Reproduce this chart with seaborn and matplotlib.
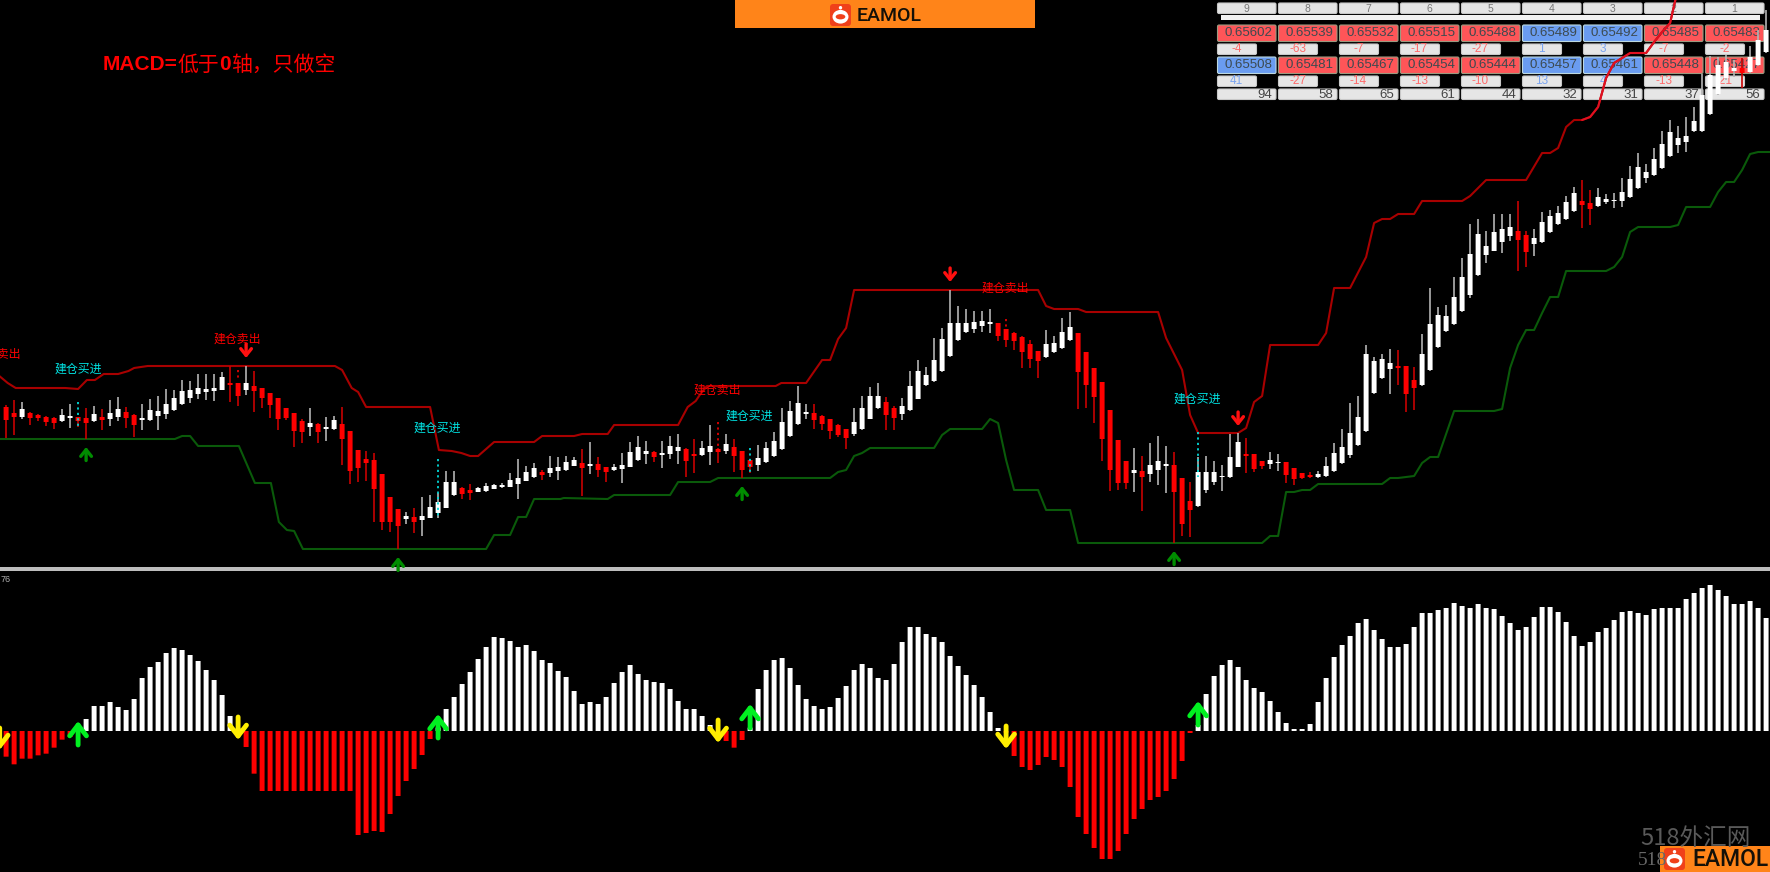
import matplotlib
matplotlib.use('Agg')
import matplotlib.pyplot as plt
from matplotlib.patches import FancyBboxPatch, Ellipse, Rectangle
import numpy as np
import pandas as pd
import seaborn as sns

# candles, read as pixel rows of the price panel (small row = high price)
wick_hi = [405, 400, 402, 412, 414, 416, 417, 409, 404, 417, 408, 406, 409, 400, 397, 407, 414, 404, 399, 396,
           389, 390, 380, 381, 374, 374, 374, 372, 366, 383, 366, 371, 388, 393, 398, 408, 413, 419, 408, 423,
           417, 416, 407, 431, 450, 451, 453, 474, 497, 509, 512, 508, 497, 495, 493, 471, 471, 487, 484, 487,
           483, 484, 483, 473, 459, 466, 463, 470, 456, 457, 456, 457, 449, 442, 457, 467, 464, 453, 442, 436,
           441, 451, 441, 436, 434, 448, 439, 441, 425, 448, 434, 439, 451, 459, 445, 442, 432, 408, 401, 386,
           404, 404, 415, 419, 424, 429, 408, 396, 387, 383, 397, 406, 398, 371, 360, 367, 338, 328, 290, 306,
           309, 311, 311, 309, 323, 329, 332, 336, 340, 351, 330, 336, 318, 312, 333, 352, 368, 382, 410, 440,
           461, 448, 456, 443, 436, 446, 452, 478, 482, 457, 456, 461, 465, 434, 433, 438, 454, 461, 452, 454,
           462, 468, 473, 472, 471, 457, 443, 429, 403, 396, 345, 357, 354, 349, 350, 366, 367, 334, 288, 307,
           305, 277, 258, 224, 219, 231, 214, 214, 214, 201, 231, 229, 212, 210, 206, 196, 187, 180, 190, 188,
           194, 193, 178, 166, 153, 164, 148, 131, 120, 126, 117, 107, 74, 56, 57, 55, 60, 58, 46, 30,
           10]
body_top = [407, 413, 409, 413, 415, 417, 418, 415, 416, 417, 418, 414, 417, 413, 409, 412, 415, 418, 410, 411,
            404, 398, 391, 390, 388, 389, 388, 377, 383, 383, 383, 386, 388, 393, 398, 408, 413, 421, 423, 424,
            427, 420, 424, 431, 450, 459, 460, 474, 497, 509, 516, 517, 516, 507, 502, 482, 482, 488, 490, 488,
            486, 485, 485, 480, 478, 472, 468, 472, 468, 467, 462, 460, 463, 464, 464, 467, 467, 465, 452, 447,
            451, 452, 453, 446, 447, 449, 454, 448, 446, 449, 444, 447, 451, 460, 458, 448, 441, 422, 411, 403,
            412, 413, 416, 419, 425, 429, 422, 408, 396, 396, 402, 408, 406, 386, 371, 375, 360, 339, 323, 323,
            323, 322, 321, 322, 323, 329, 333, 337, 344, 351, 344, 343, 332, 327, 333, 352, 368, 382, 410, 440,
            461, 470, 471, 465, 461, 464, 465, 478, 501, 472, 472, 472, 476, 457, 442, 454, 454, 461, 460, 462,
            462, 468, 473, 475, 474, 466, 453, 447, 433, 417, 354, 361, 359, 363, 366, 366, 380, 354, 324, 315,
            316, 297, 277, 254, 234, 246, 232, 229, 227, 231, 235, 238, 222, 216, 213, 202, 193, 201, 203, 197,
            199, 200, 192, 179, 167, 172, 159, 144, 132, 138, 136, 121, 95, 75, 65, 62, 68, 68, 57, 40,
            30]
body_bot = [420, 417, 417, 418, 418, 422, 423, 421, 418, 421, 423, 421, 420, 419, 417, 418, 425, 420, 420, 416,
            414, 410, 404, 398, 394, 392, 391, 390, 385, 396, 390, 391, 398, 405, 419, 418, 431, 432, 427, 432,
            429, 429, 439, 471, 468, 463, 489, 522, 522, 526, 519, 522, 520, 518, 513, 508, 495, 494, 493, 492,
            491, 489, 487, 487, 484, 481, 477, 475, 473, 471, 470, 466, 468, 466, 470, 472, 470, 469, 467, 460,
            454, 457, 455, 454, 451, 461, 456, 455, 452, 452, 451, 456, 470, 467, 465, 462, 456, 449, 436, 424,
            414, 420, 424, 431, 435, 438, 434, 429, 419, 408, 415, 418, 414, 410, 399, 385, 381, 371, 356, 340,
            332, 329, 326, 324, 336, 340, 341, 352, 359, 361, 357, 352, 348, 340, 372, 385, 397, 439, 470, 483,
            483, 473, 477, 474, 470, 466, 492, 524, 510, 506, 490, 482, 477, 477, 467, 456, 469, 466, 464, 463,
            475, 479, 478, 477, 477, 476, 471, 463, 455, 445, 431, 393, 378, 369, 368, 394, 388, 385, 370, 347,
            331, 324, 311, 295, 275, 255, 251, 242, 236, 240, 252, 244, 242, 232, 224, 219, 211, 205, 209, 206,
            202, 201, 201, 197, 188, 178, 175, 168, 156, 145, 142, 131, 131, 114, 94, 78, 71, 73, 72, 65,
            52]
wick_lo = [438, 435, 419, 425, 421, 426, 429, 422, 428, 427, 439, 422, 430, 426, 421, 428, 437, 430, 421, 430,
           419, 411, 405, 403, 399, 400, 401, 390, 402, 406, 395, 412, 408, 418, 430, 420, 447, 443, 436, 443,
           441, 430, 465, 484, 482, 481, 522, 530, 532, 549, 524, 533, 536, 518, 518, 508, 496, 499, 500, 492,
           492, 489, 488, 487, 499, 481, 478, 480, 477, 480, 471, 466, 496, 474, 477, 482, 471, 483, 467, 461,
           464, 462, 468, 459, 464, 477, 473, 456, 465, 463, 454, 472, 478, 473, 471, 463, 457, 450, 437, 425,
           419, 429, 430, 439, 437, 449, 436, 430, 419, 409, 430, 430, 420, 411, 399, 386, 382, 372, 357, 341,
           333, 333, 332, 333, 341, 347, 350, 368, 368, 378, 358, 353, 349, 341, 409, 408, 423, 461, 491, 490,
           489, 492, 511, 482, 485, 493, 543, 536, 537, 507, 493, 485, 491, 478, 467, 473, 472, 469, 469, 471,
           483, 485, 479, 478, 478, 477, 472, 464, 458, 446, 432, 394, 379, 394, 385, 412, 410, 386, 371, 348,
           332, 325, 312, 298, 276, 263, 251, 253, 241, 271, 267, 256, 243, 233, 225, 220, 212, 228, 225, 207,
           204, 208, 207, 198, 189, 183, 176, 169, 157, 153, 152, 132, 132, 115, 95, 80, 77, 88, 73, 66,
           53]
# bars that closed down, all others closed up
down_bars = [0, 1, 3, 4, 5, 6, 9, 10, 12, 15, 16, 28, 29, 31, 32, 33, 34, 35, 36, 37, 39, 42, 43, 44, 45, 46, 47, 48,
             49, 51, 57, 58, 67, 72, 74, 75, 81, 85, 86, 89, 91, 92, 93, 101, 102, 103, 104, 105, 110, 111,
             124, 125, 126, 127, 128, 129, 134, 135, 136, 137, 138, 139, 140, 142, 146, 147, 148, 155, 156, 157,
             160, 161, 162, 163, 174, 175, 176, 189, 190, 197, 198, 217]

# stop lines, bar number and row of each corner
upper_bar = [-1, 0.2, 1.2, 7.4, 9, 10.1, 11.1, 12.2, 14, 15.3, 16, 17.7, 41.1, 42, 43.2, 44, 45, 53, 54.1, 55.7, 56.9,
             58, 59, 61, 66, 67, 71, 72, 75.2, 76, 84, 85.2, 86.2, 86.7, 87.6, 96.2, 96.9, 100, 102, 103, 104, 105,
             106, 129, 130, 131, 134, 135, 144, 145, 147, 148, 149, 154, 155, 156, 157, 158, 164, 165, 166, 168, 170,
             171, 172, 173, 174, 176, 177, 182, 183, 185, 190, 192, 193, 194, 195, 196, 197, 198, 199, 200, 201, 203,
             205, 206, 207, 208, 209]
upper_row = [375, 383, 388, 388, 389, 380, 380, 374, 374, 371, 368, 366, 366, 370, 388, 392, 407, 407, 450, 451, 453,
             456, 456, 442, 442, 436, 436, 434, 434, 425, 425, 407, 401, 395, 386, 386, 383, 383, 360, 360, 339, 328,
             290, 290, 306, 309, 309, 312, 312, 338, 370, 415, 433, 433, 428, 402, 396, 345, 345, 333, 288, 288, 257,
             223, 219, 219, 214, 214, 201, 201, 196, 180, 180, 153, 153, 148, 127, 120, 120, 117, 107, 78, 63, 53,
             53, 42, 32, 23, -12]
lower_bar = [-1, 21.1, 22, 23, 24, 29.1, 31.1, 33.1, 34.1, 35.1, 36, 37.1, 60, 61, 63, 64, 65, 66, 69.3, 69.7, 75.2, 76,
             83, 84, 88, 89, 103, 104, 105, 106, 107, 108, 116, 117, 118, 122, 123, 124, 125, 126, 129, 130, 133, 134,
             157, 158, 159, 160, 161, 162, 163, 164, 172, 173, 174, 176, 177, 178, 179, 181, 186, 187, 188, 189, 190,
             191, 192, 193, 194, 195, 200, 201, 202, 203, 204, 208, 209, 210, 213, 214, 215, 216, 217, 218, 219, 221]
lower_row = [439, 439, 436, 436, 446, 446, 483, 483, 522, 530, 531, 549, 549, 535, 535, 517, 517, 499, 499, 498, 499, 495,
             495, 482, 482, 478, 478, 472, 470, 456, 453, 448, 448, 435, 429, 429, 419, 423, 460, 490, 490, 510, 510, 543,
             543, 536, 536, 492, 492, 490, 490, 484, 484, 478, 478, 476, 463, 457, 457, 411, 411, 409, 368, 345, 330,
             330, 313, 297, 297, 271, 271, 267, 257, 232, 227, 227, 225, 207, 207, 192, 182, 182, 170, 154, 152, 152]

# MACD histogram, one value per bar
macd = [-77, -100, -83, -83, -73, -68, -50, -26, -18, 10, 36, 75, 75, 87, 72, 63, 96, 159, 192, 207,
        234, 249, 243, 228, 210, 183, 153, 108, 45, 8, -48, -128, -180, -180, -180, -180, -180, -180, -180, -180,
        -180, -180, -180, -180, -312, -306, -300, -303, -249, -195, -150, -114, -72, -24, 10, 66, 102, 141, 177, 216,
        252, 282, 279, 270, 252, 258, 240, 213, 204, 180, 162, 120, 81, 87, 81, 102, 144, 177, 198, 171,
        153, 147, 144, 126, 90, 66, 66, 45, 18, -8, -30, -50, -27, 10, 126, 183, 213, 219, 189, 138,
        96, 75, 66, 72, 99, 135, 183, 201, 189, 159, 153, 201, 267, 312, 312, 291, 282, 267, 225, 195,
        168, 138, 102, 57, 9, -5, -75, -108, -117, -102, -78, -87, -108, -168, -258, -309, -351, -384, -384, -360,
        -309, -264, -234, -207, -198, -180, -144, -90, -6, 18, 111, 165, 198, 213, 192, 153, 129, 117, 90, 57,
        24, 6, 6, 21, 87, 159, 222, 258, 285, 324, 336, 303, 276, 252, 252, 261, 312, 354, 354, 363,
        369, 384, 375, 369, 381, 369, 366, 345, 324, 303, 312, 342, 372, 372, 357, 327, 285, 255, 267, 297,
        309, 333, 357, 360, 354, 348, 366, 369, 369, 369, 396, 414, 429, 438, 423, 405, 381, 381, 390, 369,
        339]

# signals
buy_bars = [10, 49, 92, 146]
buy_tops = [447, 557, 486, 551]
sell_bars = [30, 118, 154]
sell_tips = [358, 282, 426]
cyan_dots = [(9, 402, 427), (54, 459, 517), (93, 448, 473), (149, 432, 477)]
red_dots = [(29, 370, 380), (89, 422, 447), (125, 319, 329)]
sell_text = [(-1.1, 354), (28.9, 339), (88.9, 390), (124.9, 288)]
buy_text = [(9, 369), (53.9, 428), (92.9, 416), (148.9, 399)]
# bar, arrow tail, arrow tip in histogram units
macd_up = [(9, -42, 30), (54, -21, 51), (93, 9, 81), (149, 18, 90)]
macd_down = [(-0.8, 9, -57), (29, 42, -27), (89, 33, -36), (125, 15, -54)]

# table top right
bar_no = [9, 8, 7, 6, 5, 4, 3, 2, 1]
close_a = ['0.65602', '0.65539', '0.65532', '0.65515', '0.65488', '0.65489', '0.65492', '0.65485', '0.65483']
diff_a = [-4, -63, -7, -17, -27, 1, 3, -7, -2]
close_b = ['0.65508', '0.65481', '0.65467', '0.65454', '0.65444', '0.65457', '0.65461', '0.65448', '0.65427']
diff_b = [41, -27, -14, -13, -10, 13, 4, -13, -21]
volume = [94, 58, 65, 61, 44, 32, 31, 37, 56]
blue_a = [5, 6]
blue_b = [0, 5, 6]

W, H = 1770, 872
SPLIT = 568

assert len(macd) == len(wick_hi) == len(body_top) == len(body_bot) == len(wick_lo) == 221
assert len(upper_bar) == len(upper_row) and len(lower_bar) == len(lower_row)

sns.set_theme(style="dark", rc={'figure.facecolor': 'black', 'axes.facecolor': 'black'})
plt.rcParams['font.family'] = ['Liberation Sans', 'Noto Sans CJK SC']
CJK = ['Noto Sans CJK SC', 'DejaVu Sans']

fig = plt.figure(figsize=(W / 100, H / 100), dpi=100)

ax_bg = fig.add_axes([0, 0, 1, 1], zorder=0)
ax_bg.set_xlim(0, W)
ax_bg.set_ylim(H, 0)
ax_bg.axis('off')
ax_price = fig.add_axes([0, 1 - SPLIT / H, 1, SPLIT / H], zorder=2)
ax_macd = fig.add_axes([0, 0, 1, 1 - SPLIT / H], zorder=2)

n = len(macd)
bars = np.arange(n)
xlim = (-6.1 / 8, (W - 6.1) / 8)


def cell(x, y, w, h, face, edge='#c8c8c8'):
    ax_bg.add_patch(FancyBboxPatch((x + 1.5, y + 1.5), w - 3, h - 3, boxstyle='round,pad=1.5', fc=face, ec=edge, lw=0.8))


# table
for k in range(9):
    x0 = 1217.5 + 61 * k
    cell(x0, 3, 58.5, 10.5, '#e4e4e4')
    ax_bg.text(x0 + 29, 8.5, str(bar_no[k]), ha='center', va='center', fontsize=7.5, color='#777777')
    cell(x0, 25, 58.5, 16.5, '#6a9cf0' if k in blue_a else '#ff5558', '#bcd8e0' if k in blue_a else '#9a9a80')
    ax_bg.text(x0 + 31, 33.5, close_a[k], ha='center', va='center', fontsize=9.5, color='#3c4a50')
    cell(x0, 44, 39, 10.5, '#e6e6e6')
    ax_bg.text(x0 + 19, 49.5, str(diff_a[k]), ha='center', va='center', fontsize=8.5,
               color='#7aa4f0' if diff_a[k] > 0 else '#ff6a6a')
    cell(x0, 57, 58.5, 16.5, '#6a9cf0' if k in blue_b else '#ff5558', '#bcd8e0' if k in blue_b else '#9a9a80')
    ax_bg.text(x0 + 31, 65.5, close_b[k], ha='center', va='center', fontsize=9.5, color='#3c4a50')
    cell(x0, 76, 39, 10.5, '#e6e6e6')
    ax_bg.text(x0 + 19, 81.5, str(diff_b[k]), ha='center', va='center', fontsize=8.5,
               color='#7aa4f0' if diff_b[k] > 0 else '#ff6a6a')
    cell(x0, 89, 58.5, 10.5, '#e6e6e6')
    ax_bg.text(x0 + 55, 94.5, str(volume[k]), ha='right', va='center', fontsize=9.5, color='#444444')
ax_bg.add_patch(Rectangle((1220.5, 15.5), 539, 4.5, fc='#f2f2f2', ec='none'))


def logo(x, y, w, h, size, tx):
    ax_bg.add_patch(FancyBboxPatch((x + 3, y + 3), w - 6, h - 6, boxstyle='round,pad=3', fc='#f0401a', ec='none'))
    ax_bg.add_patch(Ellipse((x + w / 2, y + h * 0.58), w * 0.76, h * 0.62, fc='white', ec='none'))
    ax_bg.add_patch(Ellipse((x + w / 2, y + h * 0.17), w * 0.16, h * 0.16, fc='white', ec='none'))
    ax_bg.add_patch(Ellipse((x + w / 2, y + h * 0.58), w * 0.46, h * 0.24, fc='#f0401a', ec='none'))
    ax_bg.text(tx, y + h * 0.54, 'EAMOL', fontsize=size, family='Roboto', fontweight='medium', color='#141008',
               va='center', ha='left')


# banners
ax_bg.add_patch(Rectangle((735, 0), 300, 28.5, fc='#ff8419', ec='none'))
logo(830, 4, 21, 22, 14, 857)
ax_bg.text(1640, 838, '518外汇网', fontsize=17, family=CJK, style='italic', color='#5a5a5a', va='center', ha='left')
ax_bg.text(1638, 860, '518', fontsize=14, family='Liberation Serif', color='#666666', va='center', ha='left')
ax_bg.add_patch(Rectangle((1660, 846), 110, 26, fc='#ff8419', ec='none'))
logo(1664, 848, 21, 22, 16.5, 1692)

# title
t = ax_bg.text(103, 65, 'MACD=', fontsize=15, fontweight='bold', color='#ff0000', va='center')
for part, wgt in [('低于', 'normal'), ('0', 'bold'), ('轴，只做空', 'normal')]:
    t = ax_bg.annotate(part, xy=(1, 0.5), xycoords=t, va='center', fontsize=15, fontweight=wgt, color='#ff0000',
                       family=CJK if wgt == 'normal' else 'Liberation Sans')

# price panel
up = np.array([i not in down_bars for i in bars])
hi, lo, top, bot = map(np.array, (wick_hi, wick_lo, body_top, body_bot))
ax_price.vlines(bars[up], hi[up], lo[up], color='#b4b4b4', lw=1.2, zorder=3)
ax_price.vlines(bars[~up], hi[~up], lo[~up], color='#c80000', lw=1.2, zorder=3)
ax_price.bar(bars[up], top[up] - bot[up], bottom=bot[up], width=0.62, color='white', lw=0, zorder=4)
ax_price.bar(bars[~up], top[~up] - bot[~up], bottom=bot[~up], width=0.62, color='#ff0000', lw=0, zorder=4)

sns.lineplot(x=upper_bar, y=upper_row, color='#a80000', lw=1.5, sort=False, estimator=None, zorder=2, ax=ax_price)
sns.lineplot(x=lower_bar, y=lower_row, color='#0a5a0a', lw=1.5, sort=False, estimator=None, zorder=2, ax=ax_price)
# the part of the upper line over the table shows brighter
sns.lineplot(x=upper_bar[-11:], y=upper_row[-11:], color='#e01020', lw=1.5, sort=False, estimator=None, zorder=2,
             ax=ax_price)

for b, r0, r1 in cyan_dots:
    ax_price.vlines(b, r0, r1, color='#00d8d8', lw=1.3, linestyles=(0, (1.2, 1.8)), zorder=5)
for b, r0, r1 in red_dots:
    ax_price.vlines(b, r0, r1, color='#e00000', lw=1.3, linestyles=(0, (1.2, 1.8)), zorder=5)

for b, r in zip(buy_bars, buy_tops):
    ax_price.annotate('', xy=(b, r), xytext=(b, r + 13.5),
                      arrowprops=dict(arrowstyle='->,head_length=0.4,head_width=0.32', color='#008c00', lw=2.4,
                                      shrinkA=0, shrinkB=0))
for b, r in zip(sell_bars, sell_tips):
    ax_price.annotate('', xy=(b, r), xytext=(b, r - 14),
                      arrowprops=dict(arrowstyle='->,head_length=0.4,head_width=0.32', color='#ff1010', lw=2.4,
                                      shrinkA=0, shrinkB=0))
for b, r in sell_text:
    ax_price.text(b, r, '建仓卖出', color='#ff0000', fontsize=8.6, family=CJK, ha='center', va='center', zorder=6,
                  clip_on=True)
for b, r in buy_text:
    ax_price.text(b, r, '建仓买进', color='#00e4e4', fontsize=8.6, family=CJK, ha='center', va='center', zorder=6)

ax_price.set_xlim(*xlim)
ax_price.set_ylim(SPLIT, 0)
ax_price.patch.set_alpha(0)
ax_price.axis('off')

# MACD panel
df = pd.DataFrame({'bar': bars, 'macd': macd, 'side': np.where(np.array(macd) > 0, 'pos', 'neg')})
sns.barplot(data=df, x='bar', y='macd', hue='side', palette={'pos': '#ffffff', 'neg': '#ff0000'}, native_scale=True,
            dodge=False, width=0.62, saturation=1, legend=False, edgecolor='none', linewidth=0, ax=ax_macd)

for b, tail, tip in macd_up:
    ax_macd.annotate('', xy=(b, tip), xytext=(b, tail),
                     arrowprops=dict(arrowstyle='->,head_length=0.65,head_width=0.5', color='#00f020', lw=3.5,
                                     shrinkA=0, shrinkB=0), zorder=6)
for b, tail, tip in macd_down:
    ax_macd.annotate('', xy=(b, tip), xytext=(b, tail),
                     arrowprops=dict(arrowstyle='->,head_length=0.65,head_width=0.5', color='#ffee00', lw=3.5,
                                     shrinkA=0, shrinkB=0), zorder=6)
ax_macd.text(-0.76, 456, '76', color='#b0b0b0', fontsize=6.5, va='center', ha='left')

ax_macd.set_xlim(*xlim)
ax_macd.set_ylim((731 - H) * 3, (731 - SPLIT) * 3)
ax_macd.patch.set_alpha(0)
ax_macd.axis('off')

# keep every bar the same width instead of snapping to whole pixels
for ax in (ax_price, ax_macd):
    for p in ax.patches:
        p.set_snap(False)

# panel separator
ax_bg.add_patch(Rectangle((0, 566.5), W, 4.2, fc='#bdbdbd', ec='none'))

fig.savefig('out.png', dpi=100, facecolor='black')
